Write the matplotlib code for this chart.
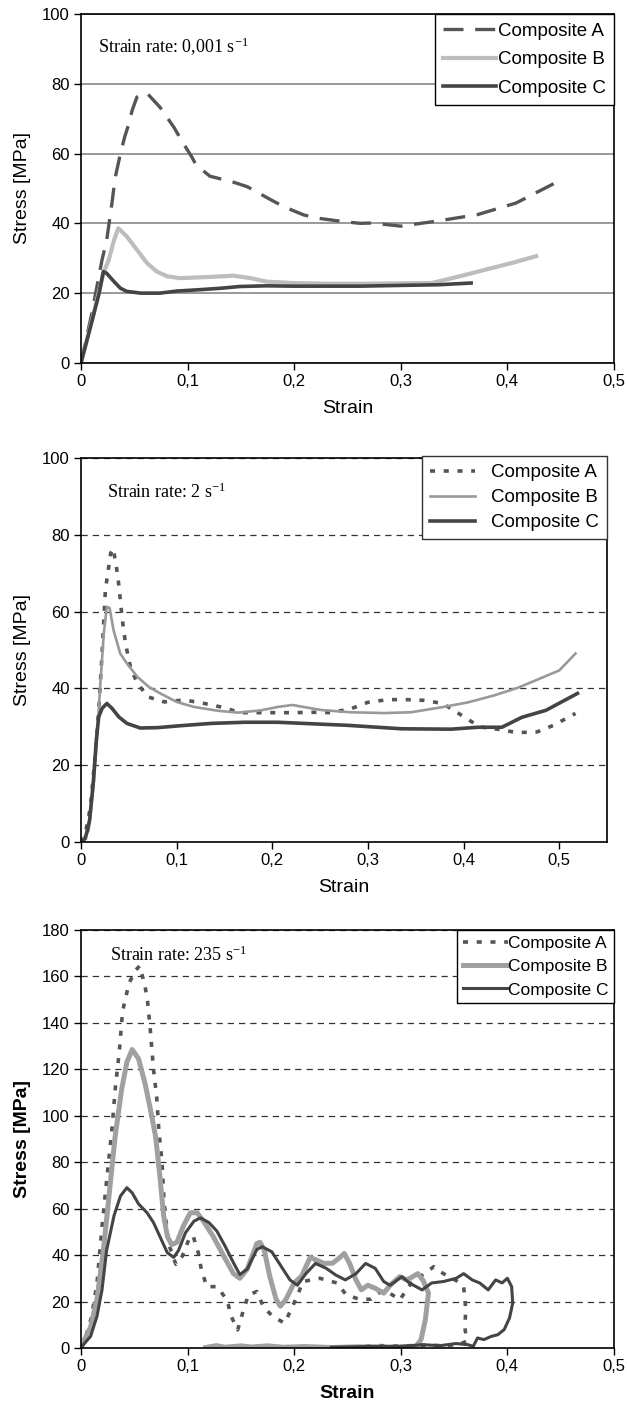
import matplotlib.pyplot as plt

plt.rcParams['font.family'] = ['Liberation Sans', 'DejaVu Sans']

# ---- panel 1 : strain rate 0,001 1/s ----
a1_strain = [0, 0.01, 0.0197, 0.024, 0.029, 0.032, 0.037, 0.041, 0.045, 0.048, 0.0525, 0.059,
             0.0625, 0.074, 0.087, 0.096, 0.104, 0.108, 0.121, 0.142, 0.156, 0.176, 0.19, 0.209,
             0.224, 0.246, 0.262, 0.273, 0.3, 0.333, 0.372, 0.408, 0.445]
a1_stress = [0, 14, 29.5, 35, 45.7, 53, 60, 64.8, 68.6, 72.4, 76.2, 77.4,
             77.1, 73.3, 67.6, 62.9, 59, 56.7, 53.5, 51.9, 50.5, 47.1, 44.8, 42.4,
             41.4, 40.5, 40, 40.1, 39.2, 40.6, 42.5, 45.8, 51.6]
b1_strain = [0, 0.012, 0.021, 0.026, 0.031, 0.035, 0.043, 0.0525, 0.062, 0.071, 0.081, 0.093,
             0.118, 0.143, 0.159, 0.174, 0.199, 0.231, 0.262, 0.329, 0.355, 0.374, 0.405, 0.427]
b1_stress = [0, 14.3, 25.7, 29.5, 35.2, 38.6, 36.2, 32.4, 28.6, 26.2, 24.8, 24.3,
             24.6, 25, 24.3, 23.3, 22.9, 22.7, 22.7, 22.9, 24.8, 26.3, 28.7, 30.6]
c1_strain = [0, 0.009, 0.017, 0.021, 0.024, 0.031, 0.037, 0.043, 0.056, 0.074, 0.09, 0.112,
             0.131, 0.149, 0.174, 0.199, 0.262, 0.297, 0.335, 0.366]
c1_stress = [0, 10.5, 20, 26.2, 25.7, 23.3, 21.4, 20.5, 20, 20, 20.6, 21,
             21.4, 21.9, 22.1, 22, 22, 22.2, 22.4, 22.9]

# ---- panel 2 : strain rate 2 1/s ----
a2_strain = [0, 0.0045, 0.0098, 0.015, 0.0185, 0.022, 0.0255, 0.028, 0.031, 0.0336, 0.037, 0.0395,
             0.043, 0.0465, 0.052, 0.059, 0.07, 0.087, 0.108, 0.125, 0.146, 0.167, 0.188, 0.206,
             0.223, 0.244, 0.261, 0.282, 0.3, 0.321, 0.34, 0.359, 0.378, 0.398, 0.417, 0.438,
             0.456, 0.477, 0.494, 0.517]
a2_stress = [0, 2.2, 9, 23, 34.3, 49, 65.7, 70, 75.2, 76.5, 71.7, 67,
             58.3, 51.7, 45.2, 41.3, 37.8, 36.5, 37, 36.3, 35.2, 33.7, 33.7, 33.7,
             33.7, 33.8, 33.7, 34.7, 36.4, 37.1, 37.1, 36.9, 36.1, 33, 30, 29.3,
             28.5, 28.7, 30.4, 33.5]
b2_strain = [0, 0.008, 0.013, 0.0168, 0.02, 0.0238, 0.027, 0.03, 0.034, 0.041, 0.048, 0.059,
             0.071, 0.083, 0.1, 0.118, 0.143, 0.164, 0.188, 0.206, 0.221, 0.237, 0.251, 0.282,
             0.317, 0.345, 0.377, 0.405, 0.432, 0.457, 0.5, 0.517]
b2_stress = [0, 3, 14.3, 27.4, 40.4, 54.3, 61.3, 60.9, 55.2, 49.1, 46.5, 43,
             40.4, 38.7, 36.5, 35.2, 34.2, 33.7, 34.3, 35.2, 35.7, 35, 34.4, 33.8,
             33.6, 33.8, 35.1, 36.4, 38.2, 40.2, 44.7, 49.1]
c2_strain = [0, 0.0045, 0.009, 0.013, 0.016, 0.0185, 0.022, 0.027, 0.0325, 0.0395, 0.048, 0.062,
             0.08, 0.104, 0.136, 0.171, 0.206, 0.251, 0.279, 0.335, 0.387, 0.415, 0.44, 0.461,
             0.486, 0.519]
c2_stress = [0, 0.9, 5.7, 16, 26.5, 32.6, 34.8, 36.1, 34.8, 32.6, 30.9, 29.7,
             29.8, 30.3, 30.9, 31.2, 31.2, 30.7, 30.4, 29.5, 29.4, 29.9, 29.9, 32.5,
             34.3, 38.7]

# ---- panel 3 : strain rate 235 1/s ----
a3_strain = [0, 0.0025, 0.01, 0.015, 0.0197, 0.024, 0.029, 0.032, 0.036, 0.039, 0.045, 0.051,
             0.055, 0.06, 0.0625, 0.065, 0.068, 0.071, 0.073, 0.076, 0.078, 0.082, 0.089, 0.095,
             0.101, 0.105, 0.11, 0.113, 0.118, 0.1275, 0.137, 0.141, 0.147, 0.152, 0.157, 0.165,
             0.171, 0.18, 0.191, 0.197, 0.204, 0.208, 0.224, 0.24, 0.249, 0.261, 0.272, 0.282,
             0.29, 0.299, 0.31, 0.322, 0.331, 0.34, 0.352, 0.359, 0.361, 0.36, 0.362, 0.355,
             0.34, 0.32, 0.3, 0.28, 0.26]
a3_stress = [0, 2, 13.5, 28, 52, 72, 94, 111, 128, 145, 157, 162.5,
             164.5, 156, 149, 137, 120, 108, 94, 80, 62.5, 45, 36, 39.5,
             46.5, 48.5, 41, 33.6, 26.4, 26.4, 20.7, 13.5, 7.8, 15.7, 22.8, 24.3,
             17.8, 13.5, 10.7, 16.4, 23.6, 28.6, 30, 28, 22.8, 21, 21, 24.5,
             23.5, 20.7, 28, 32, 35, 32, 29, 26.4, 16.4, 9, 3, 1.5,
             1, 1.2, 0.8, 1, 0.6]
b3_strain = [0, 0.001, 0.009, 0.015, 0.021, 0.0275, 0.032, 0.038, 0.043, 0.048, 0.054, 0.06,
             0.065, 0.07, 0.074, 0.0775, 0.081, 0.085, 0.09, 0.096, 0.1025, 0.109, 0.115, 0.124,
             0.134, 0.143, 0.149, 0.156, 0.165, 0.168, 0.172, 0.177, 0.183, 0.187, 0.192, 0.2,
             0.207, 0.215, 0.22, 0.228, 0.236, 0.243, 0.247, 0.252, 0.258, 0.263, 0.269, 0.276,
             0.284, 0.29, 0.299, 0.306, 0.316, 0.321, 0.326, 0.323, 0.319, 0.314, 0.29, 0.26,
             0.235, 0.21, 0.19, 0.175, 0.16, 0.15, 0.135, 0.127, 0.117]
b3_stress = [0, 1.4, 9, 21, 42, 71, 91, 111, 123, 128.5, 124.5, 114,
             103, 91, 74, 57, 48, 44.5, 45.5, 52.5, 58.2, 58.2, 54.5, 48,
             39.5, 32, 30, 34, 45, 45.5, 42, 31, 21, 18, 20.7, 28,
             31, 39, 38, 36.4, 36.5, 39, 40.7, 36.4, 29.3, 25, 27, 25.7,
             23.6, 27, 30.7, 29.3, 32, 29, 23.6, 12, 3.6, 0.5, 0.3, 0.5,
             0.2, 0.6, 0.3, 0.9, 0.4, 0.9, 0.3, 1, 0.2]
c3_strain = [0, 0.001, 0.005, 0.009, 0.015, 0.0197, 0.024, 0.031, 0.037, 0.043, 0.048, 0.054,
             0.062, 0.068, 0.074, 0.081, 0.087, 0.0915, 0.098, 0.106, 0.112, 0.12, 0.1275, 0.135,
             0.143, 0.149, 0.156, 0.165, 0.17, 0.179, 0.188, 0.196, 0.203, 0.211, 0.22, 0.23,
             0.239, 0.248, 0.258, 0.267, 0.276, 0.284, 0.29, 0.301, 0.308, 0.32, 0.329, 0.34,
             0.352, 0.359, 0.367, 0.374, 0.382, 0.389, 0.395, 0.4, 0.404, 0.405, 0.402, 0.397,
             0.391, 0.385, 0.378, 0.372, 0.368, 0.363, 0.352, 0.337, 0.321, 0.299, 0.276, 0.246,
             0.235]
c3_stress = [0, 0.7, 2.9, 5, 13.7, 25, 42, 57, 65.4, 69, 66.8, 62,
             58.2, 54, 48, 41, 39, 42, 49.6, 54.6, 56, 54, 50.3, 44,
             36.7, 31.6, 34, 42.4, 43.6, 41.4, 35, 29.3, 27, 32, 36.4, 34.3,
             31.4, 29.3, 32, 36.4, 34.3, 28.6, 27, 30.7, 28, 25, 28, 28.6,
             30, 32, 29.3, 28, 25, 29.3, 28, 30, 26.4, 19.3, 12.9, 7.9,
             5.7, 5, 3.6, 4.3, 0.7, 1.4, 1.9, 1, 1.4, 0.7, 0.7, 0.4,
             0.3]

strain_ticks = [0, 0.1, 0.2, 0.3, 0.4, 0.5]
strain_labels = ['0', '0,1', '0,2', '0,3', '0,4', '0,5']
stress_ticks_100 = [0, 20, 40, 60, 80, 100]
stress_ticks_180 = [0, 20, 40, 60, 80, 100, 120, 140, 160, 180]
series_names = ['Composite A', 'Composite B', 'Composite C']

sup = r'$\mathregular{^{-1}}$'


def style_axes(ax, xlim, ylim, yticks, grid_style, bold=False):
    ax.set_xlim(*xlim)
    ax.set_ylim(*ylim)
    ax.set_xticks(strain_ticks)
    ax.set_xticklabels(strain_labels)
    ax.set_yticks(yticks)
    ax.tick_params(direction='out', length=5, width=1, labelsize=12, pad=3)
    for s in ax.spines.values():
        s.set_linewidth(1.2)
        s.set_color('black')
    ax.set_axisbelow(True)
    if grid_style == 'solid':
        ax.yaxis.grid(True, color='#888888', linewidth=1.2, linestyle='-')
    else:
        ax.yaxis.grid(True, color='#333333', linewidth=0.9, linestyle=(0, (5, 4)))
    w = 'bold' if bold else 'normal'
    ax.set_xlabel('Strain', fontsize=14, fontweight=w, labelpad=8)
    ax.set_ylabel('Stress [MPa]', fontsize=14, fontweight=w, labelpad=8)


fig = plt.figure(figsize=(6.27, 14.1), dpi=100)

# panel 1
ax1 = fig.add_axes([0.1292, 0.7426, 0.850, 0.2475])
ax1.plot(a1_strain, a1_stress, color='#555555', lw=2.4, dashes=(6, 3.5), label=series_names[0])
ax1.plot(b1_strain, b1_stress, color='#bdbdbd', lw=3.0, label=series_names[1])
ax1.plot(c1_strain, c1_stress, color='#444444', lw=2.6, label=series_names[2])
style_axes(ax1, (0, 0.5), (0, 100), stress_ticks_100, 'solid')
ax1.text(0.032, 0.905, 'Strain rate: 0,001 s' + sup, transform=ax1.transAxes,
         family='Liberation Serif', fontsize=13, va='center', ha='left')
leg1 = ax1.legend(loc='upper right', bbox_to_anchor=(1, 1), borderaxespad=0, fontsize=13.5,
                  handlelength=2.8, handletextpad=0.1, labelspacing=0.62, borderpad=0.45,
                  fancybox=False, framealpha=1, edgecolor='black')
leg1.get_frame().set_linewidth(1.0)

# panel 2
ax2 = fig.add_axes([0.1292, 0.4028, 0.839, 0.2723])
ax2.plot(a2_strain, a2_stress, color='#555555', lw=2.6, dashes=(1.4, 2.4), label=series_names[0])
ax2.plot(b2_strain, b2_stress, color='#999999', lw=1.9, label=series_names[1])
ax2.plot(c2_strain, c2_stress, color='#444444', lw=2.6, label=series_names[2])
style_axes(ax2, (0, 0.55), (0, 100), stress_ticks_100, 'dashed')
ax2.text(0.049, 0.91, 'Strain rate: 2 s' + sup, transform=ax2.transAxes,
         family='Liberation Serif', fontsize=13, va='center', ha='left')
leg2 = ax2.legend(loc='upper right', bbox_to_anchor=(1, 1.005), borderaxespad=0, fontsize=13.5,
                  handlelength=2.4, handletextpad=0.85, labelspacing=0.42, borderpad=0.42,
                  fancybox=False, framealpha=1, edgecolor='#333333')
leg2.get_frame().set_linewidth(1.0)

# panel 3
ax3 = fig.add_axes([0.1292, 0.0440, 0.850, 0.2965])
ax3.plot(a3_strain, a3_stress, color='#555555', lw=2.6, dashes=(1.4, 2.4), label=series_names[0])
ax3.plot(b3_strain, b3_stress, color='#a0a0a0', lw=3.6, label=series_names[1])
ax3.plot(c3_strain, c3_stress, color='#444444', lw=2.2, label=series_names[2])
style_axes(ax3, (0, 0.5), (0, 180), stress_ticks_180, 'dashed', bold=True)
ax3.text(0.054, 0.94, 'Strain rate: 235 s' + sup, transform=ax3.transAxes,
         family='Liberation Serif', fontsize=13, va='center', ha='left')
leg3 = ax3.legend(loc='upper right', bbox_to_anchor=(1, 1), borderaxespad=0, fontsize=12.5,
                  handlelength=2.6, handletextpad=0.0, labelspacing=0.48, borderpad=0.32,
                  fancybox=False, framealpha=1, edgecolor='black')
leg3.get_frame().set_linewidth(1.0)

fig.savefig('out.png', dpi=100)
